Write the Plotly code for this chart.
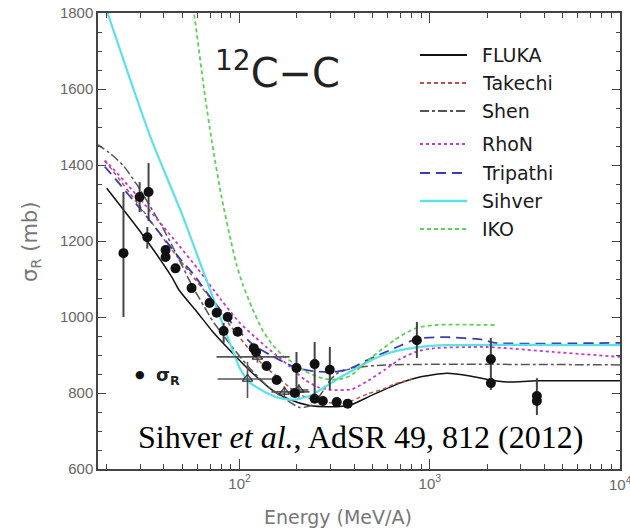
import plotly.graph_objects as go

# ---------------- data ----------------
fluka_E = [20, 30, 44, 48, 60, 72, 96, 117, 149, 183, 233, 300, 380, 500, 695, 886, 1228, 1625, 2070, 2540, 3650, 10000]
fluka_s = [1339, 1225, 1105, 1071, 1012, 962, 895, 852, 807, 783, 767, 764, 768, 795, 826, 842, 852, 845, 834, 829, 832, 832]

takechi_E = [19.5, 20, 30, 41.3, 55, 70, 90, 113, 135, 156, 183, 220, 273, 324, 390, 472, 566, 654, 804]
takechi_s = [1410, 1405, 1290, 1195, 1115, 1050, 975, 913, 870, 845, 815, 790, 776, 774, 780, 798, 810, 824, 836]

shen_E = [17.7, 20.7, 24.5, 29.1, 38.9, 45.5, 56.6, 65.5, 72, 88.6, 110, 140, 170, 207, 240, 270, 300, 330, 400, 600, 10000]
shen_s = [1455, 1432, 1398, 1345, 1240, 1175, 1080, 1025, 990, 930, 872, 818, 787, 762, 768, 800, 835, 853, 866, 874, 874]

rhon_E = [19.5, 20, 30, 45, 60, 80, 100, 120, 139, 160, 183, 220, 260, 300, 390, 472, 580, 700, 865, 1062, 2000, 4440, 10000]
rhon_s = [1412, 1408, 1310, 1205, 1128, 1045, 985, 948, 920, 895, 870, 835, 815, 808, 810, 832, 861, 890, 910, 918, 921, 908, 895]

tripathi_E = [19.5, 20, 33.2, 48.3, 57.3, 67, 88.6, 117, 162, 199, 250, 300, 330, 388, 472, 654, 865, 1228, 1900, 2200, 10000]
tripathi_s = [1395, 1390, 1258, 1155, 1112, 1065, 990, 928, 887, 866, 857, 855, 857, 866, 887, 918, 943, 947, 940, 932, 932]

sihver_E = [18, 20.2, 27, 34.4, 50, 61.5, 76.6, 90, 100, 113, 139, 168, 200, 240, 273, 330, 413, 500, 615, 760, 918, 1200, 10000]
sihver_s = [1868, 1800, 1615, 1466, 1268, 1147, 1018, 924, 866, 828, 800, 785, 783, 795, 812, 838, 866, 888, 906, 916, 922, 926, 926]

iko_E = [55, 57.5, 65, 71.2, 80, 90, 96, 104, 116, 132, 150, 170, 190, 220, 260, 300, 350, 390, 470, 560, 654, 760, 865, 1062, 2200]
iko_s = [1850, 1800, 1600, 1466, 1320, 1200, 1140, 1085, 1025, 965, 925, 897, 880, 858, 842, 835, 838, 848, 885, 915, 940, 960, 972, 979, 979]

# measured sigma_R (filled circles)
pts_E = [24.5, 29.8, 33.2, 32.7, 40.8, 40.8, 46, 55.9, 69.5, 75.7, 86.5, 82.4, 97.6, 118.6, 122, 138.6,
         156.6, 199, 248, 298, 195, 248, 274, 324, 370, 855, 2094, 2094, 3656, 3656]
pts_s = [1168, 1316, 1329, 1210, 1176, 1158, 1128, 1076, 1037, 1011, 1000, 963, 961, 918, 908, 871,
         834, 866, 876, 861, 800, 785, 779, 776, 772, 939, 889, 826, 792, 779]
pts_ep = [161, 39, 76, 27, 12, 12, 0, 0, 0, 0, 0, 21, 0, 0, 0, 0,
          0, 42, 58, 60, 0, 0, 0, 0, 0, 48, 56, 0, 47, 0]
pts_em = [168, 40, 76, 30, 12, 12, 0, 0, 0, 0, 0, 31, 0, 0, 0, 0,
          0, 71, 81, 53, 0, 0, 0, 0, 0, 47, 81, 0, 0, 37]

# open triangles with energy and cross-section error bars
tri_E = [110, 124, 172, 205]
tri_s = [837, 895, 803, 808]
tri_xp = [42, 59, 61, 25]
tri_xm = [33.4, 48.4, 25, 20]
tri_yp = [45, 15, 15, 15]
tri_ym = [50, 15, 15, 20]

legend_names = ["FLUKA", "Takechi", "Shen", "RhoN", "Tripathi", "Sihver", "IKO"]
legend_colors = ["#111111", "#b5524f", "#555555", "#c838c8", "#3c3cb4", "#5ce1e6", "#5ccf5c"]
legend_dash = ["solid", "4px,3px", "dashdot", "dot", "10px,6px", "solid", "4px,3px"]
legend_width = [1.5, 1.5, 1.5, 1.8, 1.8, 2.2, 1.8]

major_x = [100, 1000, 10000]
major_x_text = ["10<sup>2</sup>", "10<sup>3</sup>", "10<sup>4</sup>"]
minor_x = [20, 30, 40, 50, 60, 70, 80, 90, 200, 300, 400, 500, 600, 700, 800, 900,
           2000, 3000, 4000, 5000, 6000, 7000, 8000, 9000]

curves = [(fluka_E, fluka_s), (takechi_E, takechi_s), (shen_E, shen_s), (rhon_E, rhon_s),
          (tripathi_E, tripathi_s), (sihver_E, sihver_s), (iko_E, iko_s)]

fig = go.Figure()

for (E, s), name, col, dash, w in zip(curves, legend_names, legend_colors, legend_dash, legend_width):
    fig.add_trace(go.Scatter(x=E, y=s, mode="lines", name=name,
                             line=dict(color=col, dash=dash, width=w, shape="spline", smoothing=0.6),
                             showlegend=False))

fig.add_trace(go.Scatter(
    x=tri_E, y=tri_s, mode="markers", showlegend=False,
    marker=dict(symbol="triangle-up-open", size=9, color="#333333", line=dict(width=1.2)),
    error_x=dict(type="data", symmetric=False, array=tri_xp, arrayminus=tri_xm, color="#555555", thickness=1.6, width=0),
    error_y=dict(type="data", symmetric=False, array=tri_yp, arrayminus=tri_ym, color="#555555", thickness=1.6, width=0),
))

fig.add_trace(go.Scatter(
    x=pts_E, y=pts_s, mode="markers", showlegend=False,
    marker=dict(symbol="circle", size=10, color="#111111"),
    error_y=dict(type="data", symmetric=False, array=pts_ep, arrayminus=pts_em, color="#444444", thickness=2, width=0),
))

# ---- hand-drawn legend (paper coordinates) ----
x0p, x1p, xtp = (420 - 98) / 522, (467 - 98) / 522, (480 - 98) / 522
rows_px = [55, 83, 111, 144, 173, 201, 229]
for ypx, name, col, dash, w in zip(rows_px, legend_names, legend_colors, legend_dash, legend_width):
    yp = (469 - ypx) / 456
    fig.add_shape(type="line", xref="paper", yref="paper", x0=x0p, x1=x1p, y0=yp, y1=yp,
                  line=dict(color=col, dash=dash, width=w + 0.3))
    fig.add_annotation(xref="paper", yref="paper", x=xtp, y=yp, text=name, showarrow=False,
                       xanchor="left", yanchor="middle",
                       font=dict(family="DejaVu Sans", size=19, color="#1a1a1a"))

# title
fig.add_annotation(xref="paper", yref="paper", x=(277 - 98) / 522, y=(469 - 70) / 456,
                   text="<sup>12</sup>C\u2212C", showarrow=False, xanchor="center", yanchor="middle",
                   font=dict(family="DejaVu Sans", size=40, color="#222222"))

# sigma_R legend symbol
fig.add_annotation(xref="paper", yref="paper", x=(140 - 98) / 522, y=(469 - 374) / 456,
                   text="\u25CF", showarrow=False, xanchor="center", yanchor="middle",
                   font=dict(family="DejaVu Sans", size=11, color="#111111"))
fig.add_annotation(xref="paper", yref="paper", x=(154 - 98) / 522, y=(469 - 376) / 456,
                   text="<b>\u03C3</b><sub><b>R</b></sub>", showarrow=False, xanchor="left", yanchor="middle",
                   font=dict(family="DejaVu Sans", size=18, color="#222222"))

# citation
fig.add_annotation(xref="paper", yref="paper", x=(360 - 98) / 522, y=(469 - 437) / 456,
                   text="Sihver <i>et al.</i>, AdSR 49, 812 (2012)", showarrow=False,
                   xanchor="center", yanchor="middle",
                   font=dict(family="Liberation Serif, Times New Roman, serif", size=32, color="#000000"))

axis_font = dict(family="Liberation Sans, Arial, sans-serif", size=15, color="#666666")

# the last decade label sits at the right page edge (partly cut off in the reference)
fig.add_annotation(xref="paper", yref="paper", x=1.0, y=(469 - 483) / 456,
                   text=major_x_text[-1], showarrow=False, xanchor="center", yanchor="middle",
                   font=axis_font)

# axis titles
fig.add_annotation(xref="paper", yref="paper", x=(338 - 98) / 522, y=(469 - 517) / 456,
                   text="Energy (MeV/A)", showarrow=False, xanchor="center", yanchor="middle",
                   font=dict(family="DejaVu Sans", size=19, color="#777777"))
fig.add_annotation(xref="paper", yref="paper", x=(31 - 98) / 522, y=(469 - 242) / 456,
                   text="\u03C3<sub>R</sub> (mb)", showarrow=False, textangle=-90,
                   xanchor="center", yanchor="middle",
                   font=dict(family="DejaVu Sans", size=21, color="#777777"))

fig.update_xaxes(type="log", range=[1.2553, 4.0], automargin=False,
                 tickmode="array", tickvals=major_x, ticktext=major_x_text,
                 showgrid=False, zeroline=False,
                 showline=True, linecolor="#444444", linewidth=1.5, mirror="allticks",
                 ticks="inside", ticklen=10, tickwidth=1.2, tickcolor="#444444",
                 tickfont=axis_font,
                 minor=dict(tickmode="array", tickvals=minor_x, ticks="inside", ticklen=5,
                            tickwidth=1.2, tickcolor="#444444", showgrid=False))
fig.update_yaxes(range=[600, 1800], dtick=200, automargin=False, showgrid=False, zeroline=False,
                 showline=True, linecolor="#444444", linewidth=1.5, mirror="allticks",
                 ticks="inside", ticklen=8, tickwidth=1.2, tickcolor="#444444",
                 tickfont=axis_font,
                 minor=dict(dtick=50, ticks="inside", ticklen=4, tickwidth=1.2, tickcolor="#444444", showgrid=False))

fig.update_layout(width=630, height=532, margin=dict(l=98, r=10, t=13, b=63),
                  paper_bgcolor="white", plot_bgcolor="white", showlegend=False)

fig.write_html("out.html")
